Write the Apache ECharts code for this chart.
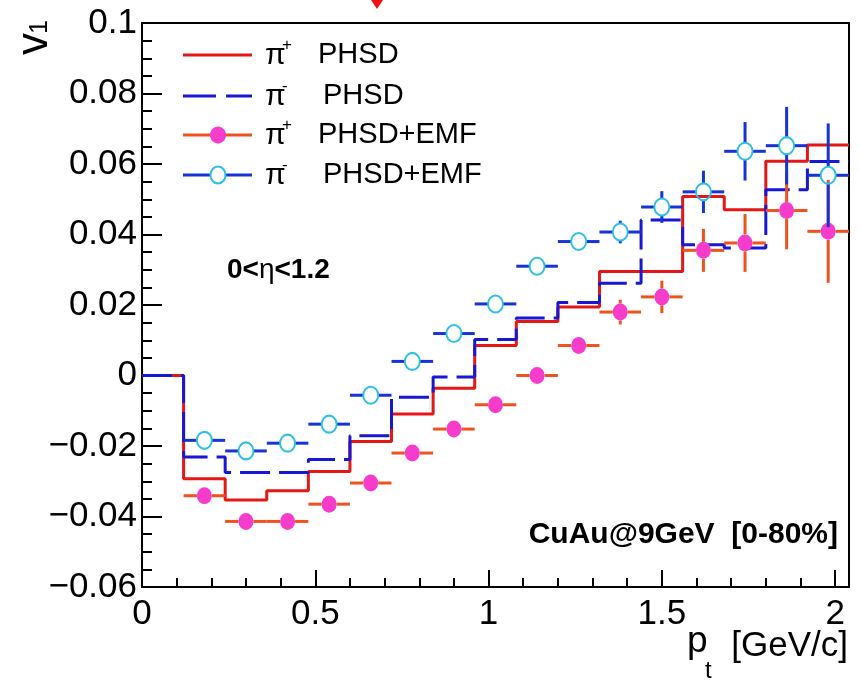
<!DOCTYPE html>
<html><head><meta charset="utf-8">
<script src="https://cdn.jsdelivr.net/npm/echarts@6/dist/echarts.min.js"></script>
<style>html,body{margin:0;padding:0;background:#fff}#c{width:860px;height:685px}</style>
</head><body><div id="c"></div>
<script>
// ---- data ----
const binEdges = [0, 0.12, 0.24, 0.36, 0.48, 0.60, 0.72, 0.84, 0.96, 1.08, 1.20, 1.32, 1.44, 1.56, 1.68, 1.80, 1.92, 2.04];
const piPlusPHSD  = [0, -0.0293, -0.0353, -0.0327, -0.0272, -0.0187, -0.0109, -0.0036, 0.0085, 0.0153, 0.0194, 0.0295, 0.0295, 0.0508, 0.0470, 0.0608, 0.0654];
const piMinusPHSD = [0, -0.0231, -0.0275, -0.0275, -0.0238, -0.0171, -0.0062, -0.0004, 0.0102, 0.0163, 0.0207, 0.0262, 0.0441, 0.0371, 0.0362, 0.0527, 0.0607];
const ptCenters   = [0.18, 0.30, 0.42, 0.54, 0.66, 0.78, 0.90, 1.02, 1.14, 1.26, 1.38, 1.50, 1.62, 1.74, 1.86, 1.98];
const piPlusEMF     = [-0.0341, -0.0414, -0.0414, -0.0365, -0.0305, -0.0220, -0.0152, -0.0083, 0.0000, 0.0085, 0.0180, 0.0223, 0.0355, 0.0376, 0.0468, 0.0409];
const piPlusEMFErr  = [0.001, 0.001, 0.001, 0.001, 0.001, 0.001, 0.001, 0.0012, 0.0014, 0.0018, 0.0035, 0.0046, 0.0061, 0.0082, 0.0110, 0.0146];
const piMinusEMF    = [-0.0184, -0.0214, -0.0192, -0.0138, -0.0056, 0.0040, 0.0119, 0.0203, 0.0310, 0.0380, 0.0407, 0.0478, 0.0521, 0.0636, 0.0652, 0.0568];
const piMinusEMFErr = [0.001, 0.001, 0.001, 0.001, 0.001, 0.001, 0.001, 0.0012, 0.0014, 0.0018, 0.0032, 0.0045, 0.0060, 0.0083, 0.0110, 0.0147];
const binHalfWidth = 0.06;
const xTickValues = [0, 0.5, 1, 1.5, 2];
const xTickLabels = ['0', '0.5', '1', '1.5', '2'];
const yTickValues = [-0.06, -0.04, -0.02, 0, 0.02, 0.04, 0.06, 0.08, 0.1];
const yTickLabels = ['\u22120.06', '\u22120.04', '\u22120.02', '0', '0.02', '0.04', '0.06', '0.08', '0.1'];

// ---- styles ----
const FONT = "'Liberation Sans', Arial, Helvetica, sans-serif";
const RED = '#e41616', BLUE = '#1717d6', ORANGE = '#f0521e', MAGENTA = '#f63ccb', CYAN = '#2fbfe6', BLUE2 = '#1733d6';
const MW = 15, MH = 17;
const ellipsePath = 'path://M0,-1A1,1,0,1,1,0,1A1,1,0,1,1,0,-1Z';

function histData(vals) {
  return binEdges.map((e, i) => [e, vals[Math.min(i, vals.length - 1)]]);
}
function pointData(vals, errs) {
  return ptCenters.map((x, i) => [x, vals[i], errs[i]]);
}
function labelFor(values, labels, v) {
  for (let i = 0; i < values.length; i++) if (Math.abs(values[i] - v) < 1e-6) return labels[i];
  return '';
}
function errRender(color) {
  return function (params, api) {
    const x = api.value(0), y = api.value(1), e = api.value(2);
    const c = api.coord([x, y]);
    const l = api.coord([x - binHalfWidth, y]);
    const r = api.coord([x + binHalfWidth, y]);
    const t = api.coord([x, y + e]);
    const b = api.coord([x, y - e]);
    const rx = MW / 2, ry = MH / 2;
    const st = { stroke: color, lineWidth: 3 };
    const ch = [
      { type: 'line', shape: { x1: l[0], y1: c[1], x2: c[0] - rx, y2: c[1] }, style: st },
      { type: 'line', shape: { x1: c[0] + rx, y1: c[1], x2: r[0], y2: c[1] }, style: st }
    ];
    if (c[1] - t[1] > ry) {
      ch.push({ type: 'line', shape: { x1: c[0], y1: t[1], x2: c[0], y2: c[1] - ry }, style: st });
      ch.push({ type: 'line', shape: { x1: c[0], y1: c[1] + ry, x2: c[0], y2: b[1] }, style: st });
    }
    return { type: 'group', children: ch };
  };
}

const chart = echarts.init(document.getElementById('c'), null, { renderer: 'canvas' });

// ---- legend / annotations as graphic text ----
const legendRows = [
  { y: 55, sign: '+', label: 'PHSD', lx: 318 },
  { y: 96, sign: '-', label: 'PHSD', lx: 323 },
  { y: 135, sign: '+', label: 'PHSD+EMF', lx: 318 },
  { y: 175, sign: '-', label: 'PHSD+EMF', lx: 323 }
];
function txt(x, y, text, size, opts) {
  opts = opts || {};
  return {
    type: 'text', x: x, y: y, rotation: opts.rotation || 0, z: 100,
    style: {
      text: text, fill: opts.color || '#000',
      font: (opts.bold ? 'bold ' : '') + size + 'px ' + FONT,
      textAlign: opts.align || 'left', align: opts.align || 'left',
      textVerticalAlign: 'middle', verticalAlign: 'middle',
      rich: opts.rich
    }
  };
}
const graphics = [];
// legend symbols
graphics.push({ type: 'line', z: 100, shape: { x1: 183, y1: 55, x2: 252, y2: 55 }, style: { stroke: RED, lineWidth: 3 } });
graphics.push({ type: 'line', z: 100, shape: { x1: 183, y1: 96, x2: 252, y2: 96 }, style: { stroke: BLUE, lineWidth: 3, lineDash: [33, 10] } });
graphics.push({ type: 'line', z: 100, shape: { x1: 183, y1: 135, x2: 252, y2: 135 }, style: { stroke: ORANGE, lineWidth: 3 } });
graphics.push({ type: 'ellipse', z: 101, shape: { cx: 218, cy: 135, rx: 8, ry: 8.5 }, style: { fill: MAGENTA } });
graphics.push({ type: 'line', z: 100, shape: { x1: 183, y1: 175, x2: 210, y2: 175 }, style: { stroke: BLUE2, lineWidth: 3 } });
graphics.push({ type: 'line', z: 100, shape: { x1: 226, y1: 175, x2: 252, y2: 175 }, style: { stroke: BLUE2, lineWidth: 3 } });
graphics.push({ type: 'ellipse', z: 101, shape: { cx: 218, cy: 175, rx: 7.5, ry: 8.5 }, style: { fill: 'none', stroke: CYAN, lineWidth: 2 } });
legendRows.forEach(r => {
  graphics.push(txt(265, r.y + 1, '\u03c0', 30));
  graphics.push(txt(282, r.y - 10, r.sign, 17));
  graphics.push(txt(r.lx, r.y, r.label, 29));
});
// annotations
graphics.push(txt(227, 270, '{b|0<}{g|\u03b7}{b|<1.2}', 28, {
  rich: { b: { font: 'bold 28px ' + FONT, fill: '#000' }, g: { font: '28px ' + FONT, fill: '#000' } }
}));
graphics.push(txt(838, 535, 'CuAu@9GeV  [0-80%]', 30, { bold: true, align: 'right' }));
// axis titles
graphics.push(txt(848, 646, '[GeV/c]', 35, { align: 'right' }));
graphics.push(txt(687, 642, 'p', 37));
graphics.push(txt(705, 671, 't', 24));
graphics.push(txt(35, 44, 'v', 44, { rotation: Math.PI / 2, align: 'center' }));
graphics.push(txt(40, 27, '1', 25, { rotation: Math.PI / 2, align: 'center' }));
// red mark at the top edge
graphics.push({ type: 'polygon', z: 100, shape: { points: [[371, 0], [383, 0], [377, 9]] }, style: { fill: '#ee1111' } });

const option = {
  animation: false,
  backgroundColor: '#fff',
  grid: { left: 142, right: 11, top: 23, bottom: 98, show: true, borderColor: '#000', borderWidth: 2, backgroundColor: 'transparent' },
  xAxis: [{
    type: 'value', min: 0, max: 2.04, interval: 0.5, position: 'bottom',
    axisLine: { onZero: false, lineStyle: { color: '#000', width: 2 } },
    axisTick: { inside: true, length: 17, lineStyle: { color: '#000', width: 2 } },
    minorTick: { show: false },
    splitLine: { show: false },
    axisLabel: { color: '#000', fontSize: 35, fontFamily: FONT, margin: 10, showMaxLabel: true,
      formatter: v => labelFor(xTickValues, xTickLabels, v) }
  }, {
    type: 'value', min: 0, max: 2.04, interval: 0.1, position: 'bottom',
    axisLine: { show: false, onZero: false },
    axisTick: { inside: true, length: 9, lineStyle: { color: '#000', width: 2 } },
    axisLabel: { show: false }, splitLine: { show: false }
  }],
  yAxis: {
    type: 'value', min: -0.06, max: 0.1, interval: 0.02, position: 'left',
    axisLine: { onZero: false, lineStyle: { color: '#000', width: 2 } },
    axisTick: { inside: true, length: 20, lineStyle: { color: '#000', width: 2 } },
    minorTick: { show: true, splitNumber: 4, length: 10, lineStyle: { color: '#000', width: 2 } },
    splitLine: { show: false },
    axisLabel: { color: '#000', fontSize: 35, fontFamily: FONT, margin: 5,
      formatter: v => labelFor(yTickValues, yTickLabels, v) }
  },
  series: [
    { name: '\u03c0+ PHSD', type: 'line', step: 'end', data: histData(piPlusPHSD), symbol: 'none', z: 2,
      lineStyle: { color: RED, width: 3 } },
    { name: '\u03c0- PHSD', type: 'line', step: 'end', data: histData(piMinusPHSD), symbol: 'none', z: 3,
      lineStyle: { color: BLUE, width: 3, type: [30, 9] } },
    { name: '\u03c0+ PHSD+EMF err', type: 'custom', z: 4, data: pointData(piPlusEMF, piPlusEMFErr),
      renderItem: errRender(ORANGE), encode: { x: 0, y: 1 } },
    { name: '\u03c0+ PHSD+EMF', type: 'scatter', z: 5, data: pointData(piPlusEMF, piPlusEMFErr),
      symbol: ellipsePath, symbolSize: [MW, MH], itemStyle: { color: MAGENTA, opacity: 1 } },
    { name: '\u03c0- PHSD+EMF err', type: 'custom', z: 6, data: pointData(piMinusEMF, piMinusEMFErr),
      renderItem: errRender(BLUE2), encode: { x: 0, y: 1 } },
    { name: '\u03c0- PHSD+EMF', type: 'scatter', z: 7, data: pointData(piMinusEMF, piMinusEMFErr),
      symbol: ellipsePath, symbolSize: [MW, MH], itemStyle: { color: 'rgba(0,0,0,0)', borderColor: CYAN, borderWidth: 2, opacity: 1 } }
  ],
  graphic: { elements: graphics }
};
chart.setOption(option);
</script>
</body></html>
